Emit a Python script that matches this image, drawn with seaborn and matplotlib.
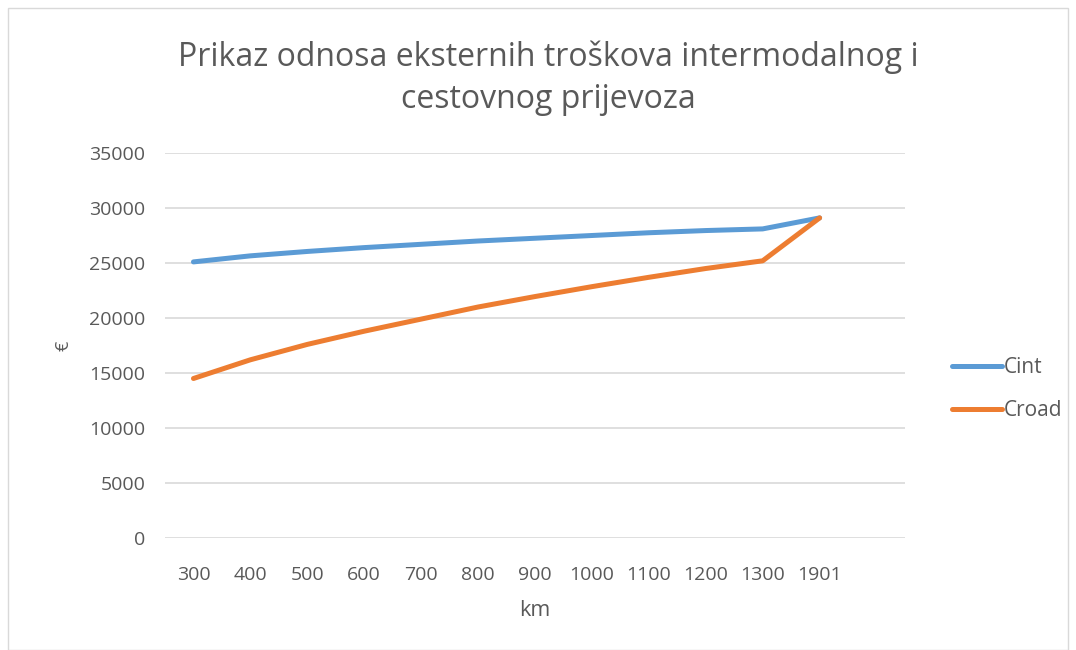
import numpy as np
import matplotlib
matplotlib.use("Agg")
import matplotlib.pyplot as plt
from matplotlib.lines import Line2D
import pandas as pd
import seaborn as sns

# data
km = ["300", "400", "500", "600", "700", "800", "900", "1000", "1100", "1200", "1300", "1901"]
cint = [25100, 25650, 26050, 26400, 26700, 27000, 27250, 27500, 27750, 27950, 28100, 29100]
croad = [14500, 16200, 17600, 18800, 19900, 21000, 21950, 22850, 23700, 24500, 25200, 29100]

sns.set_style("white")
plt.rcParams['font.family'] = ['Open Sans', 'DejaVu Sans']
txt = "#595959"

df = pd.DataFrame({
    "pos": list(range(len(km))) * 2,
    "val": cint + croad,
    "serie": ["Cint"] * len(km) + ["Croad"] * len(km),
})

fig = plt.figure(figsize=(10.76, 6.5), dpi=100)
ax = fig.add_axes([165/1076, 1-538/650, 740/1076, 385/650])

sns.lineplot(data=df, x="pos", y="val", hue="serie", ax=ax,
             palette={"Cint": "#5B9BD5", "Croad": "#ED7D31"},
             linewidth=3.6, legend=False)

ax.set_xlim(-0.5, 12.5)
ax.set_ylim(0, 35000)
ax.set_yticks(np.arange(0, 35001, 5000))
ax.set_xticks(range(len(km)))
ax.set_xticklabels(km)
ax.yaxis.grid(True, color="#d9d9d9", linewidth=1.2)
ax.set_axisbelow(True)
for s in ax.spines.values():
    s.set_visible(False)
ax.tick_params(axis="both", length=0, labelsize=14, colors=txt)
ax.tick_params(axis="y", pad=14)
ax.tick_params(axis="x", pad=20)
ax.set_xlabel("km", fontsize=15.5, color=txt, labelpad=12)
ax.set_ylabel("€", fontsize=13, color=txt, labelpad=12)

# legend drawn on the right like the original
handles = [Line2D([], [], color="#5B9BD5", lw=3.6), Line2D([], [], color="#ED7D31", lw=3.6)]
fig.legend(handles, ["Cint", "Croad"], loc="center left", bbox_to_anchor=(933/1076, 1-389/650),
           frameon=False, fontsize=15, handlelength=2.4, handletextpad=0.1,
           labelspacing=1.05, labelcolor=txt)

fig.text(548/1076, 1-78/650, "Prikaz odnosa eksternih troškova intermodalnog i\ncestovnog prijevoza",
         ha="center", va="center", fontsize=23, color=txt, linespacing=1.35)

# outer chart border
fig.add_artist(plt.Rectangle((8/1076, 0), 1060/1076, 1-8/650, transform=fig.transFigure,
                             fill=False, edgecolor="#d9d9d9", lw=1))

fig.savefig("out.png", dpi=100)
